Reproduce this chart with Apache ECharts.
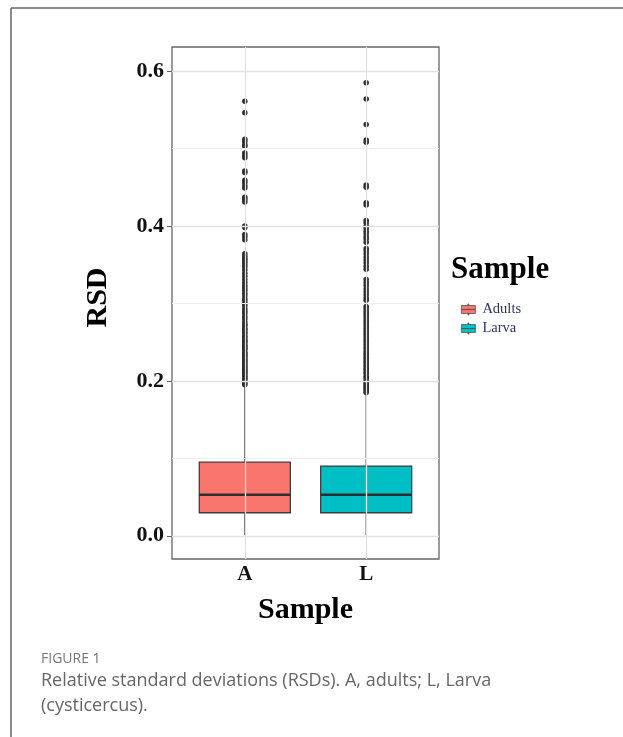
<!DOCTYPE html>
<html><head><meta charset="utf-8">
<script src="https://cdn.jsdelivr.net/npm/echarts@6/dist/echarts.min.js"></script>
<style>html,body{margin:0;padding:0;background:#fff;} #c{width:623px;height:737px;}</style>
</head><body><div id="c"></div>
<script>
// ---- data ----
const categories = ['A', 'L'];
const groupNames = ['Adults', 'Larva'];
const groupPositions = [1, 2];
// [lower whisker, Q1, median, Q3, upper whisker]
const adultsBox = [0.001, 0.0297, 0.053, 0.095, 0.193];
const larvaBox = [0.001, 0.0297, 0.053, 0.090, 0.184];
const adultsOutliers = [0.561, 0.546, 0.512, 0.509, 0.505, 0.503, 0.494, 0.491, 0.488, 0.471, 0.469,
  0.459, 0.456, 0.452, 0.449, 0.437, 0.434, 0.431, 0.400, 0.398, 0.389, 0.386, 0.382,
  0.364, 0.361, 0.358, 0.356, 0.353, 0.350, 0.347, 0.343, 0.339, 0.335, 0.331, 0.327, 0.323,
  0.320, 0.317, 0.313, 0.310, 0.306, 0.303, 0.300, 0.297, 0.293, 0.290, 0.287, 0.283, 0.280,
  0.276, 0.273, 0.271, 0.268, 0.266, 0.263, 0.261, 0.258, 0.256, 0.253, 0.251, 0.249, 0.246,
  0.244, 0.242, 0.240, 0.237, 0.235, 0.233, 0.231, 0.229, 0.227, 0.225, 0.223, 0.221, 0.219,
  0.217, 0.215, 0.213, 0.211, 0.209, 0.207, 0.205, 0.203, 0.201, 0.199, 0.197, 0.195];
const larvaOutliers = [0.585, 0.564, 0.531, 0.511, 0.508, 0.453, 0.450, 0.430, 0.427,
  0.407, 0.404, 0.400, 0.397, 0.393, 0.390, 0.386, 0.383, 0.379, 0.371, 0.368, 0.364, 0.360,
  0.356, 0.352, 0.348, 0.344, 0.331, 0.327, 0.323, 0.319, 0.315, 0.311, 0.307, 0.304, 0.296,
  0.293, 0.290, 0.287, 0.284, 0.281, 0.278, 0.275, 0.272, 0.269, 0.266, 0.263, 0.260, 0.257,
  0.254, 0.251, 0.248, 0.245, 0.242, 0.239, 0.236, 0.234, 0.231, 0.229, 0.226, 0.224, 0.221,
  0.219, 0.216, 0.214, 0.211, 0.209, 0.206, 0.204, 0.201, 0.199, 0.197, 0.195, 0.193, 0.191,
  0.189, 0.187, 0.185];
const yTickValues = [0, 0.2, 0.4, 0.6];
const yMinorValues = [0.1, 0.3, 0.5];
const colors = ['#F8766D', '#00BFC4'];

// ---- chart ----
const chart = echarts.init(document.getElementById('c'), null, {renderer: 'canvas'});
const serif = 'Liberation Serif';

function renderBox(params, api) {
  const x = api.value(0);
  const pMin = api.coord([x, api.value(1)]);
  const pQ1 = api.coord([x, api.value(2)]);
  const pMd = api.coord([x, api.value(3)]);
  const pQ3 = api.coord([x, api.value(4)]);
  const pMax = api.coord([x, api.value(5)]);
  const half = api.size([0.75, 0])[0] / 2;
  const cx = pMin[0];
  return {
    type: 'group',
    children: [
      {type: 'line', shape: {x1: cx, y1: pMax[1], x2: cx, y2: pQ3[1]}, style: {stroke: '#4a4a4a', lineWidth: 1.3}},
      {type: 'line', shape: {x1: cx, y1: pQ1[1], x2: cx, y2: pMin[1]}, style: {stroke: '#4a4a4a', lineWidth: 1.3}},
      {type: 'rect', shape: {x: cx - half, y: pQ3[1], width: 2 * half, height: pQ1[1] - pQ3[1]},
        style: {fill: api.visual('color'), stroke: '#3d3d3d', lineWidth: 1.3}},
      {type: 'line', shape: {x1: cx - half, y1: pMd[1], x2: cx + half, y2: pMd[1]}, style: {stroke: '#2e2e2e', lineWidth: 2.4}}
    ]
  };
}

const gridLines = [];
yTickValues.forEach(v => gridLines.push({yAxis: v, lineStyle: {color: '#e1e1e1', width: 1.3, type: 'solid'}}));
yMinorValues.forEach(v => gridLines.push({yAxis: v, lineStyle: {color: '#eeeeee', width: 1, type: 'solid'}}));
groupPositions.forEach(v => gridLines.push({xAxis: v, lineStyle: {color: '#e1e1e1', width: 1.3, type: 'solid'}}));

const boxes = [adultsBox, larvaBox];
const outliers = [adultsOutliers, larvaOutliers];

const series = [{
  type: 'scatter', data: [], z: 0, silent: true,
  markLine: {silent: true, symbol: 'none', label: {show: false}, animation: false, data: gridLines}
}];
groupNames.forEach((name, i) => {
  series.push({
    type: 'custom', name: name, renderItem: renderBox, z: 2,
    itemStyle: {color: colors[i]},
    encode: {x: 0, y: [1, 2, 3, 4, 5]},
    data: [[groupPositions[i]].concat(boxes[i])]
  });
  series.push({
    type: 'scatter', name: name + ' outliers', z: 3, symbolSize: 5.5,
    itemStyle: {color: '#2b2b2b', opacity: 1},
    data: outliers[i].map(v => [groupPositions[i], v])
  });
});

chart.setOption({
  animation: false,
  backgroundColor: '#ffffff',
  grid: {left: 172, top: 47, width: 267, height: 512, show: true, borderColor: '#666', borderWidth: 1.3, backgroundColor: 'transparent'},
  xAxis: {
    type: 'value', min: 0.4, max: 2.6,
    name: 'Sample', nameLocation: 'middle', nameGap: 36, nameMoveOverlap: false,
    nameTextStyle: {fontFamily: serif, fontWeight: 'bold', fontSize: 30, color: '#000', verticalAlign: 'top'},
    axisLine: {show: false},
    splitLine: {show: false},
    axisTick: {show: true, length: 4, customValues: groupPositions, lineStyle: {color: '#666'}},
    axisLabel: {customValues: groupPositions, margin: 5, fontFamily: serif, fontWeight: 'bold', fontSize: 21, color: '#111',
      formatter: v => categories[groupPositions.indexOf(v)]}
  },
  yAxis: {
    type: 'value', min: -0.03, max: 0.631,
    name: 'RSD', nameLocation: 'middle', nameGap: 59, nameRotate: 90, nameMoveOverlap: false,
    nameTextStyle: {fontFamily: serif, fontWeight: 'bold', fontSize: 30, color: '#000', padding: [0, 0, 0, 11]},
    axisLine: {show: false},
    splitLine: {show: false},
    axisTick: {show: true, length: 5, customValues: yTickValues, lineStyle: {color: '#666'}},
    axisLabel: {customValues: yTickValues, margin: 8, fontFamily: serif, fontWeight: 'bold', fontSize: 22, color: '#111',
      formatter: v => v.toFixed(1)}
  },
  legend: {
    orient: 'vertical', left: 456, top: 297, itemWidth: 14, itemHeight: 11, itemGap: 4,
    icon: 'path://M6.5,0h1v1.5h-1z M0,1.5h14v4h-14z M0,5.5h14v4h-14z M6.5,9.5h1v1.5h-1z',
    data: groupNames.map((n, i) => ({name: n, itemStyle: {color: colors[i], borderColor: '#555', borderWidth: 0.8}})),
    textStyle: {fontFamily: serif, fontSize: 14.5, color: '#2a3566', padding: [0, 0, 0, 2]}
  },
  graphic: [
    {type: 'line', shape: {x1: 11, y1: 8, x2: 623, y2: 8}, style: {stroke: '#666', lineWidth: 1.5}},
    {type: 'line', shape: {x1: 11, y1: 8, x2: 11, y2: 737}, style: {stroke: '#666', lineWidth: 1.5}},
    {type: 'text', left: 451, top: 254, style: {text: 'Sample', font: 'bold 31px "Liberation Serif"', fill: '#000'}},
    {type: 'text', left: 41, top: 652, style: {text: 'FIGURE 1', font: '14px "Open Sans"', fill: '#777'}},
    {type: 'text', left: 41, top: 672, style: {text: 'Relative standard deviations (RSDs). A, adults; L, Larva', font: '18px "Open Sans"', fill: '#666'}},
    {type: 'text', left: 41, top: 697, style: {text: '(cysticercus).', font: '18px "Open Sans"', fill: '#666'}}
  ],
  series: series
});
</script></body></html>
